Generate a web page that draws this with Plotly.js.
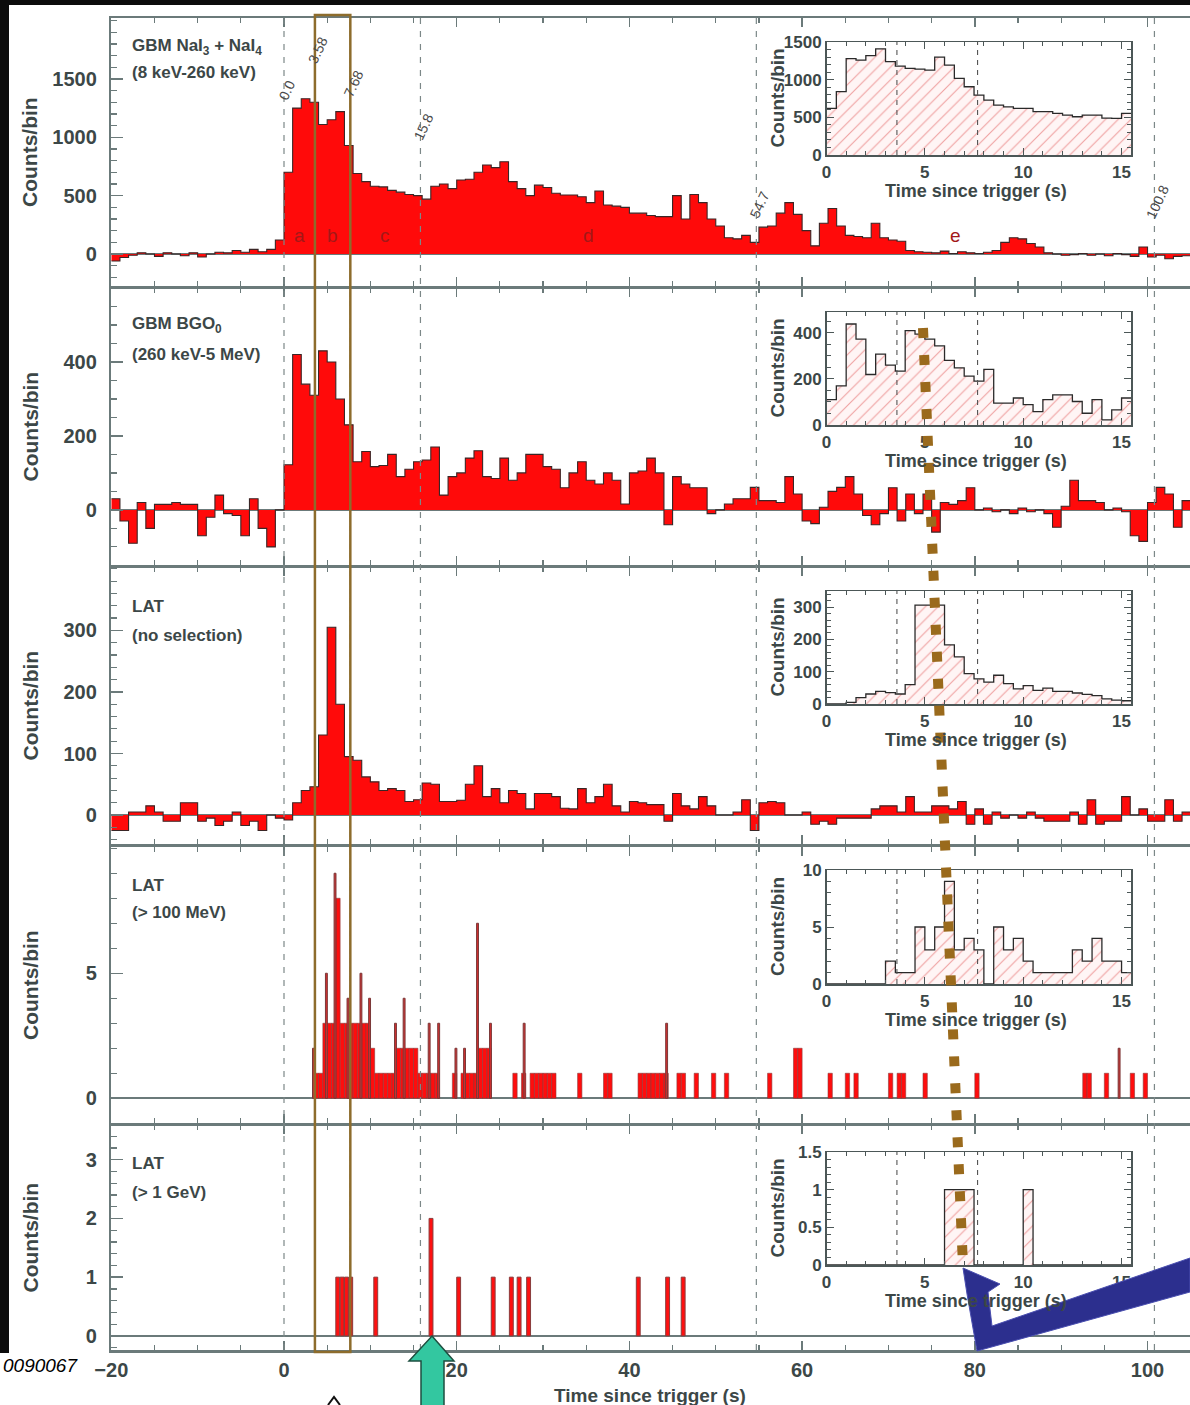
<!DOCTYPE html>
<html><head><meta charset="utf-8">
<script src="https://cdn.plot.ly/plotly-3.0.1.min.js"></script>
<style>html,body{margin:0;padding:0;background:#fff;}#chart{width:1190px;height:1405px;}</style>
</head><body><div id="chart"></div>
<script>
// ---------------- DATA ----------------
const MAIN_T0 = -20, MAIN_DT = 1;           // main panels: 1 s bins starting at -20 s
const naiCounts = [-60,-30,-10,10,0,-20,10,0,-15,10,-25,0,15,10,30,15,40,20,40,120,
 700,1250,1330,1300,1110,1150,1220,930,690,620,
 580,575,545,530,510,500,470,580,600,560,
 634,640,700,763,740,790,620,560,500,590,
 570,520,505,505,490,440,540,420,410,400,
 350,350,330,320,320,500,300,510,440,300,
 240,140,130,160,100,230,240,350,440,340,
 200,70,263,390,240,160,150,140,263,140,
 120,110,30,20,15,10,25,5,20,10,
 5,15,30,100,140,130,90,60,10,0,
 -10,-5,5,-10,0,-15,5,-5,-20,60,
 -25,-10,-40,-20,-15];
const bgoCounts = [30,-30,-90,20,-50,15,15,20,15,15,-70,-20,40,-10,-15,-70,30,-50,-100,0,
 122,420,340,310,430,400,300,230,130,158,
 117,120,150,90,110,130,135,170,40,90,
 100,140,160,90,85,140,80,100,150,150,
 117,110,60,100,130,80,70,100,80,16,
 100,105,140,100,-40,90,70,60,60,-10,
 0,16,30,30,61,25,25,20,90,43,
 -30,-37,7,50,61,90,43,-15,-40,-10,
 60,-30,43,-10,43,-60,20,15,25,60,
 0,5,-5,0,-10,5,-5,0,-10,-47,
 10,80,25,25,20,0,5,-5,-70,-85,
 20,61,43,-47,25];
const latAllCounts = [-25,-25,5,5,15,5,-10,-10,20,20,-10,-5,-17,-10,5,-17,-10,-25,0,-5,
 -8,20,40,46,130,305,180,95,89,62,
 54,40,43,40,22,25,52,50,22,22,
 24,50,80,30,43,20,40,35,10,35,
 35,30,11,10,43,20,30,50,15,5,
 22,20,17,17,-10,35,15,10,30,15,
 0,0,5,25,-25,20,22,20,0,0,
 5,-15,-10,-15,-5,-5,-5,-5,10,15,
 15,5,30,5,5,15,15,10,22,-15,
 10,-15,5,-5,0,-5,5,-5,-10,-10,
 -10,5,-15,25,-15,-10,-10,30,0,10,
 -10,-10,25,-10,5];
// LAT > 100 MeV : coarse bins (start time, counts) and fine-bin spikes
const lat100CoarseT = [3.5,4,4.5,5,5.5,6,6.5,7,7.5,8,8.5,9,9.5,10,
 10.5,11,11.5,12,12.5, 13,13.5,14,14.5,15, 15.5,16,16.5,17,17.5,
 19.5,20.5,21,21.5,22,22.5,23,23.5, 26.5,27.5,28.5,29,29.5,30,30.5,31,
 34,37,37.5, 41,41.5,42,42.5,43,43.5,44, 45.5,46,47.5,49.5,51,56, 59,59.5,
 63,65,66,70,71,71.5,74,80,92.5,93,95,98,99.5];
const lat100CoarseN = [1,1,3,3,3,8,3,3,3,3,3,3,3,2,
 1,1,1,1,1, 2,2,2,2,2, 1,1,1,1,1,
 1,1,1,1,1,2,2,2, 1,1,1,1,1,1,1,1,
 1,1,1, 1,1,1,1,1,1,1, 1,1,1,1,1,1, 2,2,
 1,1,1,1,1,1,1,1,1,1,1,1,1];
const lat100FineT = [3.3,4.8,5.8,7.3,8.8,9.8,12.8,13.8,16.7,17.8,19.8,20.8,22.3,23.8,27.7,44.2,96.6];
const lat100FineN = [2,5,9,4,5,4,3,4,3,3,2,2,7,3,3,3,2];
// LAT > 1 GeV
const lat1GeVT = [6.0,6.5,7.0,7.5,10.4,16.8,20.0,24.0,26.1,27.0,28.1,40.8,44.2,46.0];
const lat1GeVN = [1,1,1,1,1,2,1,1,1,1,1,1,1,1];
// Insets: 0.5 s bins from 0 to 15.5 s
const INSET_T0 = 0, INSET_DT = 0.5;
const insetNaI = [620,840,1280,1260,1320,1410,1240,1180,1150,1140,1127,1300,1193,1017,906,796,729,663,640,619,619,575,575,553,530,508,530,530,490,486,553];
const insetBGO = [110,170,438,372,219,307,260,234,409,394,372,343,280,248,212,190,241,95,95,117,88,58,110,131,131,102,51,110,22,66,117];
const insetLAT = [0,0,5,20,31,39,35,31,60,306,306,306,183,146,94,78,68,89,63,47,57,42,49,39,39,34,30,26,16,12,10];
const insetLAT100 = [0,0,0,0,0,0,2,1,1,5,3,5,9,3,4,3,0,5,3,4,2,1,1,1,1,3,2,4,2,2,1];
const insetLAT1GeV = [0,0,0,0,0,0,0,0,0,0,0,0,1,1,1,0,0,0,0,0,1,0,0,0,0,0,0,0,0,0,0];
// Time intervals
const intervalEdges = [0.0, 3.58, 7.68, 15.8, 54.7, 100.8];
const intervalEdgeLabels = ['0.0','3.58','7.68','15.8','54.7','100.8'];
const intervalNames = ['a','b','c','d','e'];
const mainTickVals = [-20,0,20,40,60,80,100];
const insetTickVals = [0,5,10,15];

// ---------------- HELPERS ----------------
const W = 1190, H = 1405;
const px = v => v / W, py = v => 1 - v / H;
const FONT = 'Liberation Sans, Arial, Helvetica, sans-serif';
const TXT = '#3c4747';
const AX = '#6b7a7a';

function stepXY(t0, dt, vals) {
  const x = [], y = [];
  vals.forEach((v, i) => { x.push(t0 + i * dt); y.push(v); });
  x.push(t0 + vals.length * dt); y.push(vals[vals.length - 1]);
  return {x, y};
}
function mainStep(vals, k) {
  const d = stepXY(MAIN_T0, MAIN_DT, vals);
  return {type:'scatter', mode:'lines', x:d.x, y:d.y, xaxis:'x'+(k===1?'':k), yaxis:'y'+(k===1?'':k),
    line:{shape:'hv', color:'#3a2626', width:1.1}, fill:'tozeroy', fillcolor:'#ff0a0a', hoverinfo:'skip'};
}
function insetStep(vals, k) {
  const d = stepXY(INSET_T0, INSET_DT, vals);
  return {type:'scatter', mode:'lines', x:d.x, y:d.y, xaxis:'x'+k, yaxis:'y'+k,
    line:{shape:'hv', color:'#2a2a2a', width:1.3}, fill:'tozeroy',
    fillcolor:'rgba(255,240,240,1)',
    fillpattern:{shape:'/', fgcolor:'#f0a0a0', bgcolor:'#fff5f5', size:9, solidity:0.12},
    hoverinfo:'skip'};
}

const traces = [
  mainStep(naiCounts, 1), mainStep(bgoCounts, 2), mainStep(latAllCounts, 3),
  {type:'bar', x:lat100CoarseT, y:lat100CoarseN, width:0.5, offset:0, xaxis:'x4', yaxis:'y4',
   marker:{color:'#ff0d0d', line:{color:'#8a3d3d', width:0.6}}, hoverinfo:'skip'},
  {type:'bar', x:lat100FineT, y:lat100FineN, width:0.22, offset:0, xaxis:'x4', yaxis:'y4',
   marker:{color:'#d23030', line:{color:'#7a3838', width:1}}, hoverinfo:'skip'},
  {type:'bar', x:lat1GeVT, y:lat1GeVN, width:0.45, offset:0, xaxis:'x5', yaxis:'y5',
   marker:{color:'#ff1010', line:{color:'#8a3c3c', width:1}}, hoverinfo:'skip'},
  insetStep(insetNaI, 6), insetStep(insetBGO, 7), insetStep(insetLAT, 8),
  insetStep(insetLAT100, 9), insetStep(insetLAT1GeV, 10)
];

// ---------------- LAYOUT ----------------
const mainXDom = [px(111.3), 1];
const mainXRange = [-20, 104.92];
const panels = [ // [top px, bottom px, range, tickvals, minor dtick]
  [18, 286, [-274, 2022], [0,500,1000,1500], 100],
  [288, 565, [-149, 600], [0,200,400], 50],
  [567, 844, [-47, 403], [0,100,200,300], 20],
  [847, 1123, [-0.99, 10.05], [0,5], 1],
  [1125, 1350, [-0.24, 3.59], [0,1,2,3], 0.2]
];
const insets = [ // [top px, bottom px, range, tickvals, minor]
  [42, 155, [0,1500], [0,500,1000,1500], 100],
  [312, 425, [0,490], [0,200,400], 50],
  [591, 704, [0,350], [0,100,200,300], 20],
  [870, 984, [0,10], [0,5,10], 1],
  [1152, 1265, [0,1.5], [0,0.5,1,1.5], 0.1]
];
const insetXDom = [px(826.5), px(1131.4)];

const layout = {
  width: W, height: H, margin:{l:0,r:0,t:0,b:0}, paper_bgcolor:'#fff', plot_bgcolor:'#fff',
  showlegend:false, barmode:'overlay', hovermode:false,
  annotations:[], shapes:[]
};
const tickFontMain = {family:FONT, size:20, color:TXT, weight:'bold'};
panels.forEach((p, i) => {
  const k = i + 1, s = k === 1 ? '' : k;
  layout['xaxis'+s] = {domain:mainXDom, range:mainXRange, anchor:'y'+s, showline:true, mirror:'allticks',
    linecolor:AX, linewidth:2.5, ticks:'inside', ticklen:9, tickwidth:1.5, tickcolor:AX,
    tickmode:'array', tickvals:mainTickVals, showticklabels:k===5, ticklabelstandoff:0,
    tickfont:{family:FONT, size:20, color:TXT, weight:'bold'},
    minor:{dtick:5, tick0:0, ticklen:5, tickcolor:AX, tickwidth:1.2, ticks:'inside'},
    showgrid:false, zeroline:false, fixedrange:true};
  layout['yaxis'+s] = {domain:[py(p[1]), py(p[0])], range:p[2], anchor:'x'+s, showline:true, mirror:false,
    linecolor:AX, linewidth:2.5, ticks:'inside', ticklen:12, tickwidth:1.5, tickcolor:AX,
    tickmode:'array', tickvals:p[3], tickfont:tickFontMain, ticklabelstandoff:8,
    minor:{dtick:p[4], tick0:0, ticklen:6, tickcolor:AX, tickwidth:1.2, ticks:'inside'},
    showgrid:false, zeroline:true, zerolinecolor:AX, zerolinewidth:2, fixedrange:true};
});
insets.forEach((p, i) => {
  const k = i + 6;
  layout['xaxis'+k] = {domain:insetXDom, range:[0,15.5], anchor:'y'+k, showline:true, mirror:'allticks',
    linecolor:'#4c5757', linewidth:1.5, ticks:'inside', ticklen:7, tickcolor:'#4c5757',
    tickmode:'array', tickvals:insetTickVals, ticklabelstandoff:1,
    tickfont:{family:FONT, size:17, color:TXT, weight:'bold'},
    minor:{dtick:1, tick0:0, ticklen:4, tickcolor:'#4c5757', ticks:'inside'},
    showgrid:false, zeroline:false, fixedrange:true};
  layout['yaxis'+k] = {domain:[py(p[1]), py(p[0])], range:p[2], anchor:'x'+k, showline:true, mirror:'allticks',
    linecolor:'#4c5757', linewidth:1.5, ticks:'inside', ticklen:7, tickcolor:'#4c5757',
    tickmode:'array', tickvals:p[3], ticklabelstandoff:0,
    tickfont:{family:FONT, size:17, color:TXT, weight:'bold'},
    minor:{dtick:p[4], tick0:0, ticklen:4, tickcolor:'#4c5757', ticks:'inside'},
    showgrid:false, zeroline:false, fixedrange:true};
});

function ann(text, x, y, font, extra) {
  return Object.assign({text, x:px(x), y:py(y), xref:'paper', yref:'paper', showarrow:false,
    xanchor:'center', yanchor:'middle', font:Object.assign({family:FONT, color:TXT}, font)}, extra || {});
}
const A = layout.annotations;
// axis titles
panels.forEach(p => A.push(ann('Counts/bin', 30, (p[0]+p[1])/2, {size:21, weight:'bold'}, {textangle:-90})));
A.push(ann('Time since trigger (s)', 650, 1395, {size:19, weight:'bold'}));
insets.forEach(p => {
  A.push(ann('Counts/bin', 777, (p[0]+p[1])/2, {size:19, weight:'bold'}, {textangle:-90}));
  A.push(ann('Time since trigger (s)', 976, p[1]+36, {size:18, weight:'bold'}));
});
// panel labels
const lbl = [['GBM NaI<sub>3</sub> + NaI<sub>4</sub>', 47], ['(8 keV-260 keV)', 73],
  ['GBM BGO<sub>0</sub>', 325], ['(260 keV-5 MeV)', 355],
  ['LAT', 607], ['(no selection)', 635],
  ['LAT', 885], ['(&gt; 100 MeV)', 912],
  ['LAT', 1163], ['(&gt; 1 GeV)', 1192]];
lbl.forEach(l => A.push(ann(l[0], 130, l[1], {size:17, weight:'bold'}, {xanchor:'left'})));
// interval edge labels (rotated)
const edgeLabelY = [90, 50, 84, 127, 205, 202];
intervalEdges.forEach((e, i) => A.push({text:intervalEdgeLabels[i], x:e + 0.35, y:py(edgeLabelY[i]),
  xref:'x', yref:'paper', showarrow:false, textangle:-65, xanchor:'center', yanchor:'middle',
  font:{family:FONT, size:14, color:'#4a4a4a'}}));
// interval names
intervalNames.forEach((n, i) => A.push({text:n, x:(intervalEdges[i]+intervalEdges[i+1])/2, y:py(236),
  xref:'x', yref:'paper', showarrow:false, xanchor:'center', yanchor:'middle',
  font:{family:FONT, size:19, color:'#a31818'}}));
A.push(ann('0090067', 80, 1365, {size:19, color:'#000', style:'italic'}, {xanchor:'right'}));

// ---------------- SHAPES ----------------
const S = layout.shapes;
function pathOf(pts) { return 'M ' + pts.map(p => px(p[0]) + ',' + py(p[1])).join(' L ') + ' Z'; }
S.push({type:'rect', xref:'paper', yref:'paper', x0:0, x1:px(9), y0:py(1353), y1:1, fillcolor:'#0c0c0c', line:{width:0}, layer:'above'});
S.push({type:'rect', xref:'paper', yref:'paper', x0:0, x1:1, y0:py(5), y1:1, fillcolor:'#0c0c0c', line:{width:0}, layer:'above'});
[0, 15.8, 54.7, 100.8].forEach(v => S.push({type:'line', xref:'x', yref:'paper', x0:v, x1:v, y0:py(1350), y1:py(18),
  line:{color:'#7c8888', width:1.2, dash:'6px,7px'}}));
S.push({type:'line', xref:'x', yref:'paper', x0:intervalEdges[2], x1:intervalEdges[2], y0:py(1350), y1:py(18),
  line:{color:'#8d6c2c', width:1.2, dash:'5px,4px'}});
S.push({type:'rect', xref:'x', yref:'paper', x0:intervalEdges[1], x1:intervalEdges[2], y0:py(1352), y1:py(15),
  line:{color:'#8d6c2c', width:2.5}, fillcolor:'rgba(0,0,0,0)'});
for (let k = 6; k <= 10; k++) {
  [intervalEdges[1], intervalEdges[2]].forEach(v => S.push({type:'line', xref:'x'+k, yref:'y'+k+' domain',
    x0:v, x1:v, y0:0, y1:1, line:{color:'#555', width:1.1, dash:'5px,5px'}}));
}
// brown dotted guide
S.push({type:'line', xref:'paper', yref:'paper', x0:px(923), y0:py(328), x1:px(963), y1:py(1266),
  line:{color:'#9a6a1c', width:10, dash:'10px,17px'}});
// green arrow
S.push({type:'path', xref:'paper', yref:'paper', path:pathOf([[432,1336],[454,1361],[444,1361],[444,1406],[421,1406],[421,1361],[409,1361]]),
  fillcolor:'#33c7a0', line:{color:'#1e4f40', width:1.5}});
// blue arrow
S.push({type:'path', xref:'paper', yref:'paper', path:pathOf([[963,1268],[1000,1284],[988,1292],[992,1326],[1190,1258],[1190,1292],[977,1351],[967,1294]]),
  fillcolor:'#2c2f8e', line:{color:'#4a4fb0', width:1}});
// small caret
S.push({type:'path', xref:'paper', yref:'paper', path:'M '+px(328)+','+py(1405)+' L '+px(334)+','+py(1397)+' L '+px(340)+','+py(1405),
  line:{color:'#111', width:2}});

Plotly.newPlot('chart', traces, layout, {staticPlot:true, displayModeBar:false});
</script></body></html>
